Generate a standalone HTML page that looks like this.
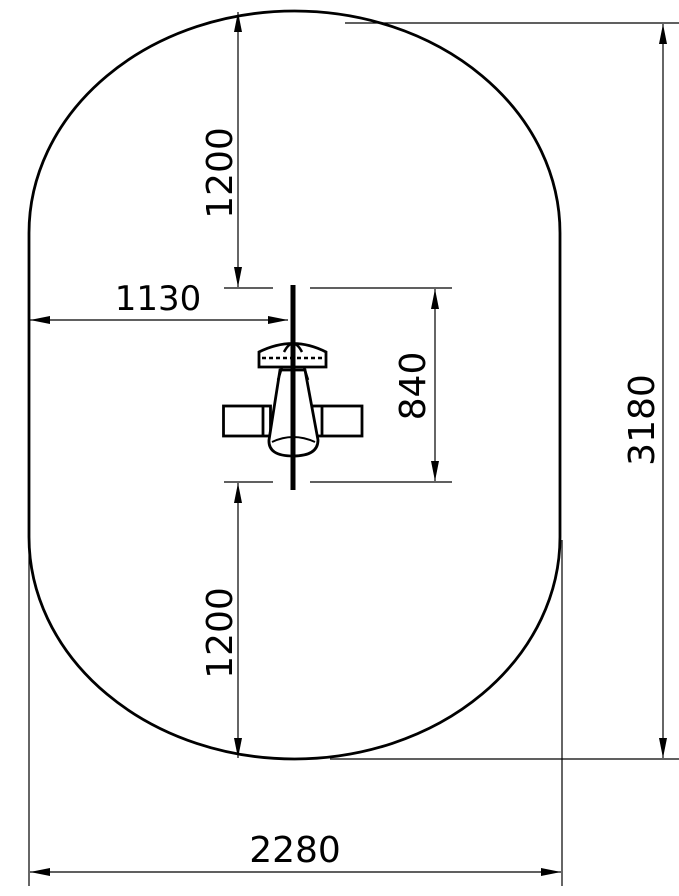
<!DOCTYPE html>
<html><head><meta charset="utf-8"><style>
html,body{margin:0;padding:0;background:#fff;}
svg{display:block;}
text{font-family:"DejaVu Sans","Liberation Sans",sans-serif;fill:#000;}
</style></head><body>
<svg width="679" height="896" viewBox="0 0 679 896" xmlns="http://www.w3.org/2000/svg">
<defs>
<marker id="a" viewBox="0 0 20 8" refX="20" refY="4" markerWidth="20" markerHeight="8" markerUnits="userSpaceOnUse" orient="auto-start-reverse">
<path d="M0,0 L20,4 L0,8 Z" fill="#000"/></marker>
</defs>
<path d="M29,233 A265.5,222 0 0 1 560,233 L560,537 A265.5,222 0 0 1 29,537 Z" fill="none" stroke="#000" stroke-width="2.8"/>
<g stroke="#000" stroke-width="1.2" fill="none">
<line x1="345" y1="23" x2="679" y2="23"/>
<line x1="330" y1="759" x2="679" y2="759"/>
<line x1="29" y1="540" x2="29" y2="886"/>
<line x1="562" y1="540" x2="562" y2="886"/>
<line x1="224" y1="288" x2="273" y2="288"/>
<line x1="310" y1="288" x2="452" y2="288"/>
<line x1="224" y1="482" x2="273" y2="482"/>
<line x1="310" y1="482" x2="452" y2="482"/>
<line x1="238" y1="12" x2="238" y2="287" marker-start="url(#a)" marker-end="url(#a)"/>
<line x1="238" y1="483" x2="238" y2="758" marker-start="url(#a)" marker-end="url(#a)"/>
<line x1="435" y1="289" x2="435" y2="481" marker-start="url(#a)" marker-end="url(#a)"/>
<line x1="663" y1="24" x2="663" y2="758" marker-start="url(#a)" marker-end="url(#a)"/>
<line x1="30" y1="872" x2="561" y2="872" marker-start="url(#a)" marker-end="url(#a)"/>
<line x1="30" y1="320" x2="288" y2="320" marker-start="url(#a)" marker-end="url(#a)"/>
</g>
<g stroke="#000" fill="none">
<rect x="223.5" y="406" width="47" height="30" stroke-width="2.8"/>
<line x1="263" y1="406" x2="263" y2="436" stroke-width="2.8"/>
<rect x="312" y="406" width="50" height="30" stroke-width="2.8"/>
<line x1="322" y1="406" x2="322" y2="436" stroke-width="2.8"/>
<path d="M280,370 L305,370 L318,440 Q318,456 293,456 Q268,456 269,440 Z" fill="#fff" stroke-width="2.8"/>
<path d="M272,442 Q293,432 315,442" stroke-width="2"/>
<path d="M259,352 Q293,335 326,352 L326,367 L259,367 Z" fill="#fff" stroke-width="2.8"/>
<line x1="262" y1="358" x2="323" y2="358" stroke-width="2.5" stroke-dasharray="4,3"/>
<path d="M282,367 L278,380 M304,367 L308,380" stroke-width="2.5"/>
<path d="M284,352 Q293,335 302,352" stroke-width="2.5"/>
<line x1="293" y1="285" x2="293" y2="490" stroke-width="5"/>
</g>
<text x="158" y="310" font-size="34" text-anchor="middle">1130</text>
<text x="295" y="862" font-size="36" text-anchor="middle">2280</text>
<text transform="translate(232,173) rotate(-90)" font-size="36" text-anchor="middle">1200</text>
<text transform="translate(232,633) rotate(-90)" font-size="36" text-anchor="middle">1200</text>
<text transform="translate(425,386) rotate(-90)" font-size="36" text-anchor="middle">840</text>
<text transform="translate(654,420) rotate(-90)" font-size="36" text-anchor="middle">3180</text>
</svg>
</body></html>
